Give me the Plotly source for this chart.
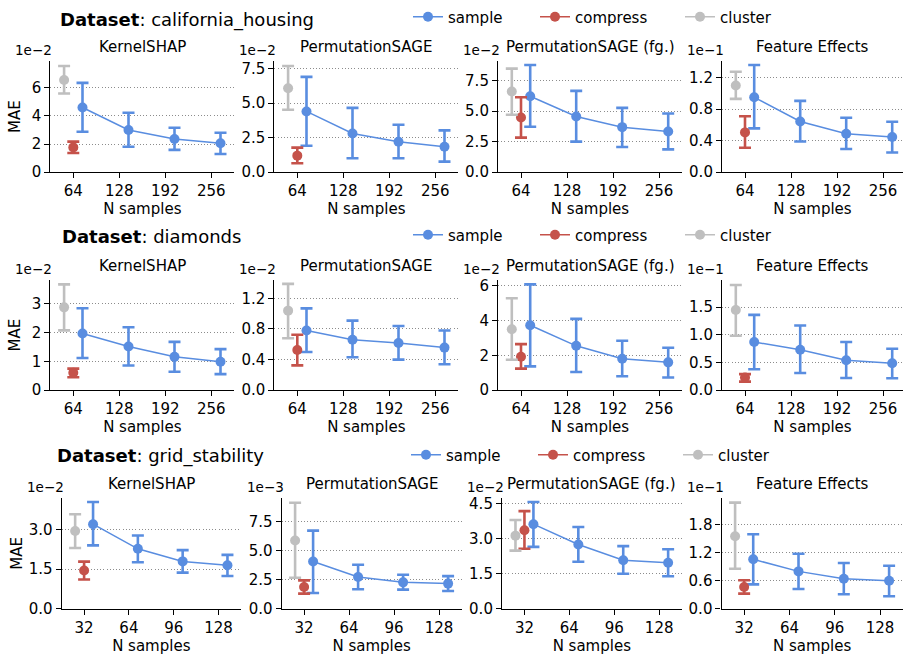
import plotly.graph_objects as go

W, H = 903, 656
FONT = "DejaVu Sans"

DATASETS = ["california_housing", "diamonds", "grid_stability"]
METHODS = ["KernelSHAP", "PermutationSAGE", "PermutationSAGE (fg.)", "Feature Effects"]
STRATEGIES = ["sample", "compress", "cluster"]

# N samples per dataset (x categories)
N_CA = [64, 128, 192, 256]
N_DI = [64, 128, 192, 256]
N_GS = [32, 64, 96, 128]

# exponent of the y offset text for each panel (per method)
EXP_CA = [-2, -2, -2, -1]
EXP_DI = [-2, -2, -2, -1]
EXP_GS = [-2, -3, -2, -1]

# ---------------- california_housing ----------------
CA_SAMPLE = [[4.59e-2, 2.99e-2, 2.35e-2, 2.05e-2],
             [4.40e-2, 2.81e-2, 2.21e-2, 1.85e-2],
             [6.22e-2, 4.56e-2, 3.69e-2, 3.34e-2],
             [0.950e-1, 0.644e-1, 0.488e-1, 0.446e-1]]
CA_SAMPLE_LO = [[2.87e-2, 1.81e-2, 1.58e-2, 1.29e-2],
                [1.92e-2, 1.01e-2, 1.01e-2, 0.77e-2],
                [3.72e-2, 2.50e-2, 2.07e-2, 1.87e-2],
                [0.556e-1, 0.390e-1, 0.295e-1, 0.250e-1]]
CA_SAMPLE_HI = [[6.33e-2, 4.21e-2, 3.15e-2, 2.80e-2],
                [6.90e-2, 4.66e-2, 3.44e-2, 3.03e-2],
                [8.78e-2, 6.66e-2, 5.27e-2, 4.81e-2],
                [1.360e-1, 0.905e-1, 0.690e-1, 0.640e-1]]
CA_COMPRESS = [1.76e-2, 1.20e-2, 4.48e-2, 0.505e-1]
CA_COMPRESS_LO = [1.36e-2, 0.65e-2, 2.83e-2, 0.310e-1]
CA_COMPRESS_HI = [2.17e-2, 1.78e-2, 6.14e-2, 0.710e-1]
CA_CLUSTER = [6.54e-2, 6.08e-2, 6.60e-2, 1.100e-1]
CA_CLUSTER_LO = [5.58e-2, 4.52e-2, 4.70e-2, 0.930e-1]
CA_CLUSTER_HI = [7.53e-2, 7.69e-2, 8.48e-2, 1.275e-1]

# ---------------- diamonds ----------------
DI_SAMPLE = [[1.97e-2, 1.52e-2, 1.16e-2, 0.99e-2],
             [0.780e-2, 0.660e-2, 0.617e-2, 0.557e-2],
             [3.73e-2, 2.55e-2, 1.81e-2, 1.60e-2],
             [0.870e-1, 0.730e-1, 0.540e-1, 0.486e-1]]
DI_SAMPLE_LO = [[1.12e-2, 0.86e-2, 0.64e-2, 0.56e-2],
                [0.500e-2, 0.430e-2, 0.400e-2, 0.340e-2],
                [1.37e-2, 1.05e-2, 0.80e-2, 0.73e-2],
                [0.380e-1, 0.310e-1, 0.220e-1, 0.216e-1]]
DI_SAMPLE_HI = [[2.85e-2, 2.19e-2, 1.68e-2, 1.43e-2],
                [1.070e-2, 0.910e-2, 0.840e-2, 0.780e-2],
                [6.08e-2, 4.10e-2, 2.84e-2, 2.44e-2],
                [1.360e-1, 1.170e-1, 0.870e-1, 0.750e-1]]
DI_COMPRESS = [0.61e-2, 0.525e-2, 1.92e-2, 0.230e-1]
DI_COMPRESS_LO = [0.45e-2, 0.325e-2, 1.24e-2, 0.155e-1]
DI_COMPRESS_HI = [0.75e-2, 0.725e-2, 2.65e-2, 0.290e-1]
DI_CLUSTER = [2.88e-2, 1.04e-2, 3.50e-2, 1.450e-1]
DI_CLUSTER_LO = [2.08e-2, 0.68e-2, 1.75e-2, 0.985e-1]
DI_CLUSTER_HI = [3.68e-2, 1.39e-2, 5.28e-2, 1.900e-1]

# ---------------- grid_stability ----------------
GS_SAMPLE = [[3.22e-2, 2.28e-2, 1.80e-2, 1.65e-2],
             [4.06e-3, 2.72e-3, 2.26e-3, 2.15e-3],
             [3.61e-2, 2.74e-2, 2.07e-2, 1.96e-2],
             [1.060e-1, 0.800e-1, 0.640e-1, 0.600e-1]]
GS_SAMPLE_LO = [[2.41e-2, 1.77e-2, 1.37e-2, 1.24e-2],
                [1.34e-3, 1.66e-3, 1.63e-3, 1.51e-3],
                [2.64e-2, 2.00e-2, 1.49e-2, 1.38e-2],
                [0.520e-1, 0.420e-1, 0.306e-1, 0.264e-1]]
GS_SAMPLE_HI = [[4.07e-2, 2.79e-2, 2.23e-2, 2.05e-2],
                [6.73e-3, 3.78e-3, 2.92e-3, 2.80e-3],
                [4.56e-2, 3.49e-2, 2.67e-2, 2.54e-2],
                [1.600e-1, 1.180e-1, 0.980e-1, 0.920e-1]]
GS_COMPRESS = [1.45e-2, 1.86e-3, 3.35e-2, 0.463e-1]
GS_COMPRESS_LO = [1.11e-2, 1.29e-3, 2.56e-2, 0.320e-1]
GS_COMPRESS_HI = [1.79e-2, 2.43e-3, 4.17e-2, 0.610e-1]
GS_CLUSTER = [2.96e-2, 5.87e-3, 3.12e-2, 1.555e-1]
GS_CLUSTER_LO = [2.31e-2, 2.66e-3, 2.48e-2, 0.857e-1]
GS_CLUSTER_HI = [3.60e-2, 9.13e-3, 3.79e-2, 2.280e-1]

ROWS = [
    dict(name=DATASETS[0], n=N_CA, exp=EXP_CA, s=CA_SAMPLE, slo=CA_SAMPLE_LO, shi=CA_SAMPLE_HI,
         c=CA_COMPRESS, clo=CA_COMPRESS_LO, chi=CA_COMPRESS_HI,
         k=CA_CLUSTER, klo=CA_CLUSTER_LO, khi=CA_CLUSTER_HI),
    dict(name=DATASETS[1], n=N_DI, exp=EXP_DI, s=DI_SAMPLE, slo=DI_SAMPLE_LO, shi=DI_SAMPLE_HI,
         c=DI_COMPRESS, clo=DI_COMPRESS_LO, chi=DI_COMPRESS_HI,
         k=DI_CLUSTER, klo=DI_CLUSTER_LO, khi=DI_CLUSTER_HI),
    dict(name=DATASETS[2], n=N_GS, exp=EXP_GS, s=GS_SAMPLE, slo=GS_SAMPLE_LO, shi=GS_SAMPLE_HI,
         c=GS_COMPRESS, clo=GS_COMPRESS_LO, chi=GS_COMPRESS_HI,
         k=GS_CLUSTER, klo=GS_CLUSTER_LO, khi=GS_CLUSTER_HI),
]

# ---------------- styles / layout (pixels) ----------------
COLORS = {"sample": "#598de0", "compress": "#c5524a", "cluster": "#bfbfbf"}
DODGE = {"cluster": -0.2, "compress": 0.0, "sample": 0.2}

ROW_LEFT = [[50.3, 274.3, 498.0, 722.0], [50.3, 274.3, 498.0, 722.0], [61.7, 281.6, 502.0, 721.5]]
ROW_PPC = [[46.0, 46.0, 46.0, 46.0], [46.0, 46.0, 46.0, 46.0], [44.8, 45.0, 44.9, 45.3]]
ROW_TOP = [58.3, 278.3, 497.3]
ROW_BOT = [170.0, 389.0, 608.3]
YMAX = [[7.88, 8.05, 9.1, 1.41], [3.83, 1.44, 6.33, 1.99], [4.22, 9.54, 4.73, 2.38]]
DTICK = [[2, 2.5, 2.5, 0.4], [1, 0.4, 2, 0.5], [1.5, 2.5, 1.5, 0.6]]
DEC = [[0, 1, 1, 1], [0, 1, 0, 1], [1, 1, 1, 1]]
TITLE_X = [58, 60, 55]
TITLE_Y = [17, 235, 455]
LEG_X = [[413, 540, 685], [413, 540, 685], [411, 538, 683]]
LEG_Y = [14, 233, 454]

TICK_FONT = dict(family=FONT, size=15, color="black")
LABEL_FONT = dict(family=FONT, size=15, color="black")

fig = go.Figure()
layout = dict(
    width=W, height=H, margin=dict(l=0, r=0, t=0, b=0),
    paper_bgcolor="white", plot_bgcolor="white",
    font=dict(family=FONT, size=15, color="black"),
    showlegend=True,
)
annotations = []


def px_x(p):
    return p / W


def px_y(p):
    return 1 - p / H


for r, row in enumerate(ROWS):
    cats = list(range(len(row["n"])))
    for c, method in enumerate(METHODS):
        k = r * 4 + c + 1
        xa = "x" if k == 1 else f"x{k}"
        ya = "y" if k == 1 else f"y{k}"
        scale = 10.0 ** row["exp"][c]
        left = ROW_LEFT[r][c]
        ppc = ROW_PPC[r][c]
        right = min(left + 4 * ppc, W)
        xmax = -0.5 + (right - left) / ppc

        series = [
            ("sample", [i + DODGE["sample"] for i in cats], row["s"][c], row["slo"][c], row["shi"][c]),
            ("compress", [cats[0] + DODGE["compress"]], [row["c"][c]], [row["clo"][c]], [row["chi"][c]]),
            ("cluster", [cats[0] + DODGE["cluster"]], [row["k"][c]], [row["klo"][c]], [row["khi"][c]]),
        ]
        for si, (strat, xs, m, lo, hi) in enumerate(series):
            ym = [v / scale for v in m]
            up = [(h - v) / scale for v, h in zip(m, hi)]
            dn = [(v - l) / scale for v, l in zip(m, lo)]
            leg_id = r * 3 + si + 1
            fig.add_trace(go.Scatter(
                x=xs, y=ym, mode="lines+markers", name=strat,
                line=dict(color=COLORS[strat], width=1.5),
                marker=dict(color=COLORS[strat], size=10),
                error_y=dict(type="data", symmetric=False, array=up, arrayminus=dn,
                             color=COLORS[strat], thickness=2.6, width=6),
                xaxis=xa, yaxis=ya,
                showlegend=(c == 0),
                legend="legend" if leg_id == 1 else f"legend{leg_id}",
                hoverinfo="skip",
            ))

        axis_common = dict(
            showline=True, linecolor="black", linewidth=1.1,
            ticks="outside", ticklen=5, tickwidth=1.1, tickcolor="black",
            tickfont=TICK_FONT, zeroline=False, automargin=False,
        )
        layout["xaxis" if k == 1 else f"xaxis{k}"] = dict(
            axis_common,
            domain=[px_x(left), px_x(right)],
            range=[-0.5, xmax],
            tickmode="array", tickvals=cats, ticktext=[str(v) for v in row["n"]],
            showgrid=False, anchor=ya,
            title=dict(text="N samples", font=LABEL_FONT, standoff=2),
        )
        layout["yaxis" if k == 1 else f"yaxis{k}"] = dict(
            axis_common,
            domain=[px_y(ROW_BOT[r]), px_y(ROW_TOP[r])],
            range=[0, YMAX[r][c]],
            tick0=0, dtick=DTICK[r][c], tickformat=f".{DEC[r][c]}f",
            showgrid=True, gridcolor="#8c8c8c", gridwidth=1, griddash="1px,2.2px",
            anchor=xa,
            title=dict(text="MAE" if c == 0 else "", font=LABEL_FONT, standoff=7 if r < 2 else 2),
        )
        # subplot title
        annotations.append(dict(
            text=method, x=px_x((left + right) / 2), y=px_y(ROW_TOP[r] - 14),
            xref="paper", yref="paper", xanchor="center", yanchor="middle",
            showarrow=False, font=dict(family=FONT, size=15, color="black"),
            borderpad=0,
        ))
        # offset text
        annotations.append(dict(
            text=f"1e\u2212{-row['exp'][c]}", x=px_x(left - 36), y=px_y(ROW_TOP[r] - 11),
            xref="paper", yref="paper", xanchor="left", yanchor="middle",
            showarrow=False, font=dict(family=FONT, size=13.5, color="black"),
            borderpad=0,
        ))

    # dataset title
    annotations.append(dict(
        text=f"<b>Dataset</b>: {row['name']}", x=px_x(TITLE_X[r]), y=px_y(TITLE_Y[r]),
        xref="paper", yref="paper", xanchor="left", yanchor="middle",
        showarrow=False, font=dict(family=FONT, size=18, color="black"),
    ))
    # legends for this row
    for si in range(3):
        leg_id = r * 3 + si + 1
        key = "legend" if leg_id == 1 else f"legend{leg_id}"
        layout[key] = dict(
            x=px_x(LEG_X[r][si] - 5), y=px_y(LEG_Y[r]), xanchor="left", yanchor="middle",
            orientation="h", bgcolor="rgba(0,0,0,0)", borderwidth=0,
            font=dict(family=FONT, size=15, color="black"),
        )

layout["annotations"] = annotations
fig.update_layout(**layout)
fig.write_html("out.html")
